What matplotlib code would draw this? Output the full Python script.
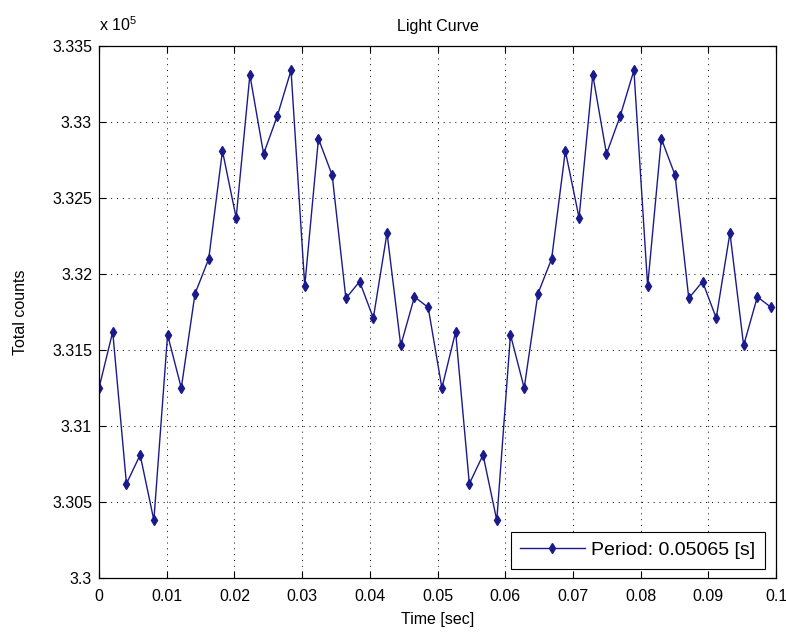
import matplotlib
matplotlib.use('Agg')
import matplotlib.pyplot as plt
from matplotlib.ticker import FuncFormatter, MultipleLocator

# folded light curve, one period, in units of 1e5 counts
period = 0.05065
nBins = 25
phaseCounts = [3.3125, 3.3162, 3.3062, 3.3081, 3.3038, 3.3160, 3.3125, 3.3187,
               3.3210, 3.3281, 3.3237, 3.3331, 3.3279, 3.3304, 3.3334, 3.3192,
               3.3289, 3.3265, 3.3184, 3.3195, 3.3171, 3.3227, 3.3153, 3.3185,
               3.3178]
legendLabel = 'Period: 0.05065 [s]'

# two periods are shown
counts = [c * 1e5 for c in phaseCounts + phaseCounts]
times = [i * period / nBins for i in range(len(counts))]


def main():
    plt.rcParams['font.family'] = ['Liberation Sans', 'DejaVu Sans']
    plt.rcParams['mathtext.default'] = 'regular'

    fig = plt.figure(figsize=(7.86, 6.37), dpi=100)
    ax = fig.add_axes([99 / 786, 1 - 578 / 637, 677 / 786, 532 / 637])

    ax.plot(times, counts, '-d', color='#1a1a8c', lw=1, ms=5, label=legendLabel)

    ax.set_xlim(0, 0.1)
    ax.set_ylim(3.3e5, 3.335e5)
    ax.xaxis.set_major_locator(MultipleLocator(0.01))
    ax.yaxis.set_major_locator(MultipleLocator(500))
    ax.xaxis.set_major_formatter(FuncFormatter(lambda v, p: '{:g}'.format(round(v, 4))))
    ax.yaxis.set_major_formatter(FuncFormatter(lambda v, p: '{:g}'.format(round(v / 1e5, 4))))

    ax.grid(True, color='k', linestyle=(0, (1, 5)), lw=0.7)
    ax.tick_params(direction='in', top=True, right=True, length=5, width=0.8, labelsize=11.5)
    ax.tick_params(axis='x', pad=8)
    ax.tick_params(axis='y', pad=5)
    for s in ax.spines.values():
        s.set_linewidth(0.9)

    ax.set_title('Light Curve', fontsize=11.5, pad=11)
    ax.set_xlabel('Time [sec]', fontsize=11.5, labelpad=6)
    ax.set_ylabel('Total counts', fontsize=11.5, labelpad=17)
    ax.text(0, 1.022, 'x $10^5$', transform=ax.transAxes, fontsize=11.5, ha='left', va='bottom')

    leg = ax.legend(loc='lower right', bbox_to_anchor=(0.984, 0.017), borderaxespad=0,
                    fancybox=False, edgecolor='k', framealpha=1, handlelength=3.3,
                    handletextpad=0.35, borderpad=0.5, fontsize=14)
    leg.get_frame().set_linewidth(0.8)

    fig.savefig('out.png', dpi=100)


if __name__ == '__main__':
    main()
